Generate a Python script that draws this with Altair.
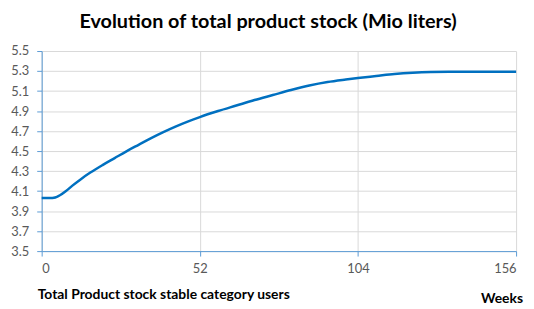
import altair as alt
import pandas as pd

weeks = [0, 2, 3, 4, 5, 6, 8, 10, 13, 16, 20, 24, 28, 32, 36, 40, 44, 48, 52, 58, 64, 70, 76, 82, 88, 94, 100, 104, 110, 116, 122, 128, 134, 140, 156]
stock = [4.03, 4.03, 4.03, 4.033, 4.043, 4.058, 4.10, 4.152, 4.222, 4.285, 4.36, 4.43, 4.50, 4.565, 4.63, 4.69, 4.745, 4.795, 4.84, 4.90, 4.955, 5.01, 5.06, 5.11, 5.155, 5.19, 5.215, 5.23, 5.25, 5.27, 5.283, 5.29, 5.292, 5.292, 5.292]
x_ticks = [0, 52, 104, 156]
y_ticks = [3.5, 3.7, 3.9, 4.1, 4.3, 4.5, 4.7, 4.9, 5.1, 5.3, 5.5]
title_text = "Evolution of total product stock (Mio liters)"
x_title = "Weeks"
y_note = "Total Product stock stable category users"

df = pd.DataFrame({"week": weeks, "stock": stock})
FONT = "Lato"
BLUE_AX = "#5B9BD5"

line = alt.Chart(df).mark_line(color="#0070C0", strokeWidth=2.5, interpolate="monotone").encode(
    x=alt.X("week:Q", scale=alt.Scale(domain=[0, 156], nice=False, zero=False),
            axis=alt.Axis(values=x_ticks, title=None, grid=True, gridColor="#d9d9d9",
                          domainColor=BLUE_AX, tickColor=BLUE_AX, tickSize=5,
                          labelPadding=7, labelFontSize=13, labelColor="#595959", labelFont=FONT)),
    y=alt.Y("stock:Q", scale=alt.Scale(domain=[3.5, 5.5], nice=False, zero=False),
            axis=alt.Axis(values=y_ticks, format=".1f", title=None, grid=True, gridColor="#d9d9d9",
                          domainColor=BLUE_AX, tickColor=BLUE_AX, tickSize=5,
                          labelPadding=8, labelFontSize=13, labelColor="#595959", labelFont=FONT)),
)

note = alt.Chart(pd.DataFrame({"t": [y_note]})).mark_text(
    align="left", baseline="middle", font=FONT, fontSize=14, fontWeight="bold", color="#000000"
).encode(x=alt.value(-4), y=alt.value(246), text="t:N")

wk = alt.Chart(pd.DataFrame({"t": [x_title]})).mark_text(
    align="right", baseline="middle", font=FONT, fontSize=14, fontWeight="bold", color="#000000"
).encode(x=alt.value(486), y=alt.value(250), text="t:N")

chart = alt.layer(line, note, wk).properties(
    width=479, height=202,
    autosize=alt.AutoSizeParams(type="none"),
    padding={"left": 34, "top": 42, "right": 10, "bottom": 56},
    title=alt.TitleParams(title_text, font=FONT, fontSize=20, fontWeight="bold", color="#000000",
                          anchor="middle", dx=-11, offset=13),
).configure_view(stroke=None)

chart.save("out.html", embed_options={"renderer": "svg", "actions": False})
